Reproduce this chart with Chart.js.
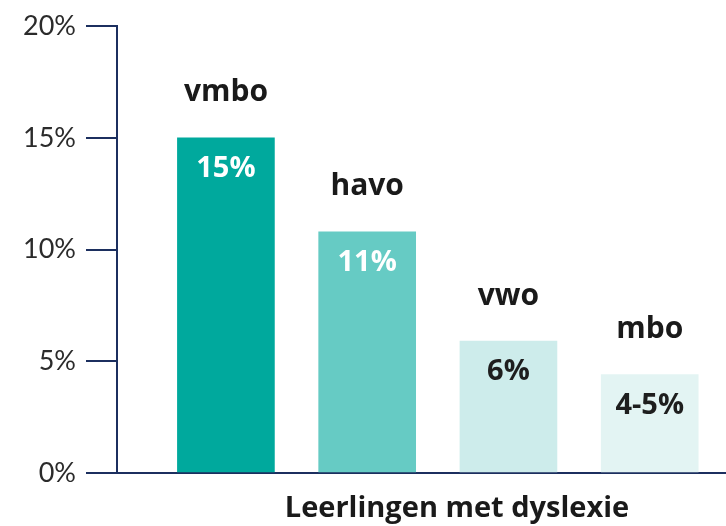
<!DOCTYPE html>
<html lang="nl">
<head>
  <meta charset="UTF-8" />
  <title>Leerlingen met dyslexie</title>
  <style>
    html, body {
      margin: 0;
      padding: 0;
      background: #ffffff;
    }

    .wrap {
      width: 726px;
      height: 526px;
    }
  </style>
</head>
<body>
  <div class="wrap">
    <canvas id="myChart" width="726" height="526"></canvas>
  </div>
  <script src="https://cdn.jsdelivr.net/npm/chart.js@4/dist/chart.umd.min.js"></script>
  <script>
    const categories = ["vmbo", "havo", "vwo", "mbo"];
    const values = [15, 10.8, 5.9, 4.4];
    const valueLabels = ["15%", "11%", "6%", "4-5%"];
    const barColors = ["#00a99d", "#66cbc4", "#cdeceb", "#e3f4f3"];
    const valueColors = ["#ffffff", "#ffffff", "#1e1e1e", "#1e1e1e"];
    const yTicks = [0, 5, 10, 15, 20];
    const xTitle = "Leerlingen met dyslexie";

    const navy = "#1c2f5f";

    // category names above the bars, values inside
    const barText = {
      id: "barText",
      afterDatasetsDraw(chart) {
        const ctx = chart.ctx;
        const meta = chart.getDatasetMeta(0);
        ctx.save();
        ctx.textAlign = "center";
        ctx.textBaseline = "middle";
        meta.data.forEach((bar, i) => {
          ctx.font = "bold 30px 'Open Sans'";
          ctx.fillStyle = "#1a1a1a";
          ctx.fillText(categories[i], bar.x, bar.y - 45);
          ctx.font = "bold 29px 'Open Sans'";
          ctx.fillStyle = valueColors[i];
          ctx.fillText(valueLabels[i], bar.x, bar.y + 31);
        });
        ctx.restore();
      }
    };

    const bottomTitle = {
      id: "bottomTitle",
      afterDraw(chart) {
        const ctx = chart.ctx;
        ctx.save();
        ctx.font = "bold 29px 'Open Sans'";
        ctx.fillStyle = "#1a1a1a";
        ctx.textAlign = "center";
        ctx.textBaseline = "middle";
        ctx.fillText(xTitle, 457, 509);
        ctx.restore();
      }
    };

    var ctx = document.getElementById("myChart").getContext("2d");
    var myChart = new Chart(ctx, {
      type: "bar",
      data: {
        datasets: [
          {
            data: values.map((v, i) => ({ x: i + 1, y: v })),
            backgroundColor: barColors,
            borderWidth: 0,
            barThickness: 97
          }
        ]
      },
      plugins: [barText, bottomTitle],
      options: {
        responsive: false,
        animation: false,
        layout: {
          padding: { top: 25, right: 0, bottom: 0, left: 0 }
        },
        plugins: {
          legend: { display: false },
          tooltip: { enabled: false }
        },
        scales: {
          x: {
            type: "linear",
            offset: false,
            min: 0.229,
            max: 4.54,
            ticks: { display: false },
            grid: { display: false, drawTicks: false, offset: false },
            border: { display: true, color: navy, width: 2 },
            afterFit(scale) {
              scale.height = 53;
            }
          },
          y: {
            min: 0,
            max: 20,
            afterBuildTicks(scale) {
              scale.ticks = yTicks.map(v => ({ value: v }));
            },
            ticks: {
              padding: 10,
              color: "#2b2b2b",
              font: { family: "Lato", size: 27 },
              callback: v => v + "%"
            },
            grid: {
              drawOnChartArea: false,
              drawTicks: true,
              tickLength: 31,
              color: navy,
              lineWidth: 2
            },
            border: { display: true, color: navy, width: 2 },
            afterFit(scale) {
              scale.width = 117;
            }
          }
        }
      }
    });
  </script>
</body>
</html>
